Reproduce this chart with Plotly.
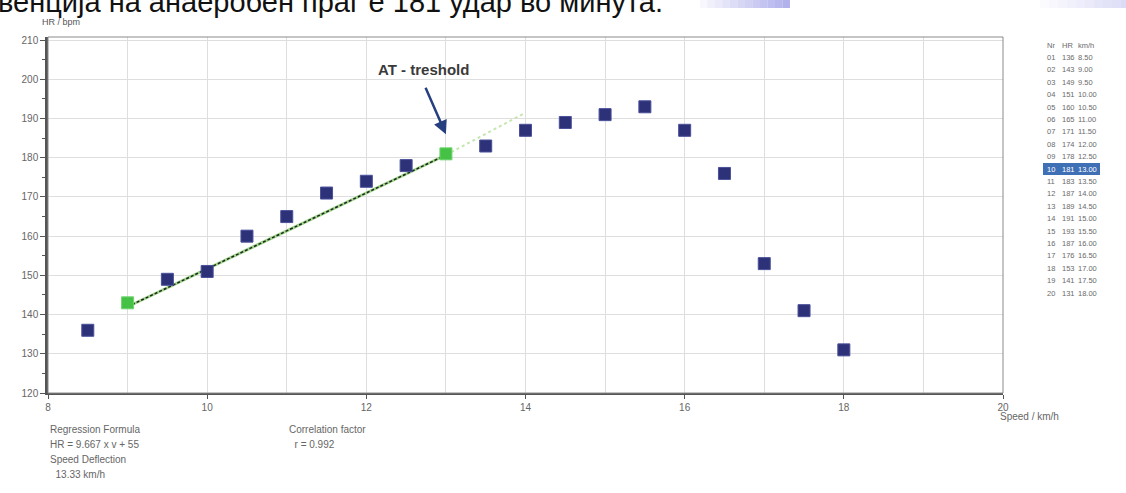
import plotly.graph_objects as go

# ---------------- data ----------------
speed = [8.5, 9.0, 9.5, 10.0, 10.5, 11.0, 11.5, 12.0, 12.5, 13.0,
         13.5, 14.0, 14.5, 15.0, 15.5, 16.0, 16.5, 17.0, 17.5, 18.0]
hr = [136, 143, 149, 151, 160, 165, 171, 174, 178, 181,
      183, 187, 189, 191, 193, 187, 176, 153, 141, 131]
green_idx = [1, 9]  # points used for the regression (start / AT)

reg_x = [9.0, 13.0]
reg_y = [142.0, 180.7]
ext_x = [13.0, 14.0]
ext_y = [180.7, 191.5]

x_ticks = [8, 10, 12, 14, 16, 18, 20]
y_ticks = [120, 130, 140, 150, 160, 170, 180, 190, 200, 210]

title_text = "венција на анаеробен праг е 181 удар во минута."
formula_lines = ["Regression Formula", "HR = 9.667 x v + 55", "Speed Deflection", "  13.33 km/h"]
corr_lines = ["Correlation factor", "  r = 0.992"]
table_header = ["Nr", "HR", "km/h"]
highlight_row = 10

# ---------------- geometry helpers (pixel -> paper) ----------------
W, H = 1126, 493
L, R, T, B = 48, 1003, 37, 393


def px(x):
    return (x - L) / (R - L)


def py(y):
    return (B - y) / (B - T)


navy = "#2c3178"
green = "#45c245"

fig = go.Figure()

# regression extension (light green dotted)
fig.add_trace(go.Scatter(x=ext_x, y=ext_y, mode="lines",
                         line=dict(color="#c6e6b0", width=2, dash="dot"),
                         hoverinfo="skip", showlegend=False))
# regression line
fig.add_trace(go.Scatter(x=reg_x, y=reg_y, mode="lines",
                         line=dict(color="#9fd88a", width=3),
                         hoverinfo="skip", showlegend=False))
fig.add_trace(go.Scatter(x=reg_x, y=reg_y, mode="lines",
                         line=dict(color="#222222", width=1.5, dash="3px,2px"),
                         hoverinfo="skip", showlegend=False))

colors = [green if i in green_idx else navy for i in range(len(speed))]
lines = ["#6fd46f" if i in green_idx else "#4a509a" for i in range(len(speed))]
fig.add_trace(go.Scatter(x=speed, y=hr, mode="markers",
                         marker=dict(symbol="square", size=12, color=colors,
                                     line=dict(color=lines, width=1)),
                         showlegend=False))

annotations = []

# top cut-off slide text
annotations.append(dict(x=px(-4), y=py(20), xref="paper", yref="paper", xanchor="left",
                        yanchor="bottom", text=title_text, showarrow=False,
                        font=dict(family="Arial", size=29, color="#111111")))

# AT arrow
annotations.append(dict(x=13.0, y=186.0, xref="x", yref="y", ax=-21, ay=-48,
                        axref="pixel", ayref="pixel", text="", showarrow=True,
                        arrowhead=2, arrowsize=1.1, arrowwidth=2.5, arrowcolor="#26407f"))
annotations.append(dict(x=12.72, y=202.6, xref="x", yref="y", text="<b>AT - treshold</b>",
                        showarrow=False, font=dict(family="Arial", size=15, color="#3a3a3a")))

# axis titles
annotations.append(dict(x=px(40), y=py(22), xref="paper", yref="paper", xanchor="left",
                        yanchor="middle", text="HR / bpm", showarrow=False,
                        font=dict(family="Arial", size=9, color="#555555")))
annotations.append(dict(x=px(998), y=py(424), xref="paper", yref="paper", xanchor="left",
                        text="Speed / km/h", showarrow=False,
                        font=dict(family="Arial", size=10, color="#666666")))

# bottom info text
for i, t in enumerate(formula_lines):
    annotations.append(dict(x=px(48), y=py(437 + 15 * i), xref="paper", yref="paper",
                            xanchor="left", text=t.replace(" ", "&nbsp;"), showarrow=False,
                            font=dict(family="Arial", size=10, color="#666666")))
for i, t in enumerate(corr_lines):
    annotations.append(dict(x=px(287), y=py(437 + 15 * i), xref="paper", yref="paper",
                            xanchor="left", text=t.replace(" ", "&nbsp;"), showarrow=False,
                            font=dict(family="Arial", size=10, color="#666666")))

# right-hand data table
row_h = 12.4
col_x = [1045, 1060, 1076]
rows = [table_header] + [[f"{i + 1:02d}", f"{h}", f"{s:.2f}"] for i, (h, s) in enumerate(zip(hr, speed))]
for r, row in enumerate(rows):
    yc = 45 + r * row_h
    col = "#ffffff" if r == highlight_row else "#6a6a6a"
    for c, t in enumerate(row):
        annotations.append(dict(x=px(col_x[c]), y=py(yc), xref="paper", yref="paper",
                                xanchor="left", yanchor="middle", text=t, showarrow=False,
                                font=dict(family="Arial", size=7.5, color=col)))

shapes = [
    # highlight of the AT row in the table
    dict(type="rect", xref="paper", yref="paper", x0=px(1043), x1=px(1100),
         y0=py(45 + highlight_row * row_h + 6), y1=py(45 + highlight_row * row_h - 6),
         fillcolor="#3f6fb5", line=dict(width=0), layer="below"),
    # plot frame (top / right)
    dict(type="rect", xref="paper", yref="paper", x0=0, x1=1, y0=0, y1=1,
         line=dict(color="#8a8a8a", width=1)),
]
# decorative lavender gradient bits of the slide
for k in range(12):
    a = 0.08 + 0.06 * k
    shapes.append(dict(type="rect", xref="paper", yref="paper",
                       x0=px(700 + 7.5 * k), x1=px(700 + 7.5 * (k + 1)), y0=py(8), y1=py(-2),
                       fillcolor=f"rgba(150,150,230,{a:.2f})", line=dict(width=0)))
for k in range(10):
    a = 0.05 + 0.04 * k
    shapes.append(dict(type="rect", xref="paper", yref="paper",
                       x0=px(1040 + 9 * k), x1=px(1040 + 9 * (k + 1)), y0=py(8), y1=py(-2),
                       fillcolor=f"rgba(170,170,235,{a:.2f})", line=dict(width=0)))

fig.update_layout(
    width=W, height=H,
    margin=dict(l=L, r=W - R, t=T, b=H - B, autoexpand=False),
    paper_bgcolor="white", plot_bgcolor="white",
    font=dict(family="Arial", size=10, color="#666666"),
    annotations=annotations, shapes=shapes,
    showlegend=False,
)
fig.update_xaxes(range=[8, 20], tickvals=x_ticks, ticktext=[str(v) for v in x_ticks],
                 automargin=False,
                 showgrid=True, gridcolor="#dedede", gridwidth=1,
                 minor=dict(dtick=1, showgrid=True, gridcolor="#dedede", ticks=""),
                 showline=True, linecolor="#555555", linewidth=2,
                 ticks="outside", ticklen=4, tickcolor="#555555", zeroline=False,
                 tickfont=dict(size=10, color="#666666"))
fig.update_yaxes(range=[120, 210.8], tickvals=y_ticks, ticktext=[str(v) for v in y_ticks],
                 automargin=False,
                 showgrid=True, gridcolor="#dedede", gridwidth=1,
                 minor=dict(dtick=5, ticks="outside", ticklen=3, tickcolor="#555555", showgrid=False),
                 showline=True, linecolor="#555555", linewidth=2.5,
                 ticks="outside", ticklen=5, tickcolor="#555555", zeroline=False,
                 tickfont=dict(size=10, color="#666666"))

fig.write_html("out.html", config={"displayModeBar": False},
               post_script="document.body.style.margin='0';")
